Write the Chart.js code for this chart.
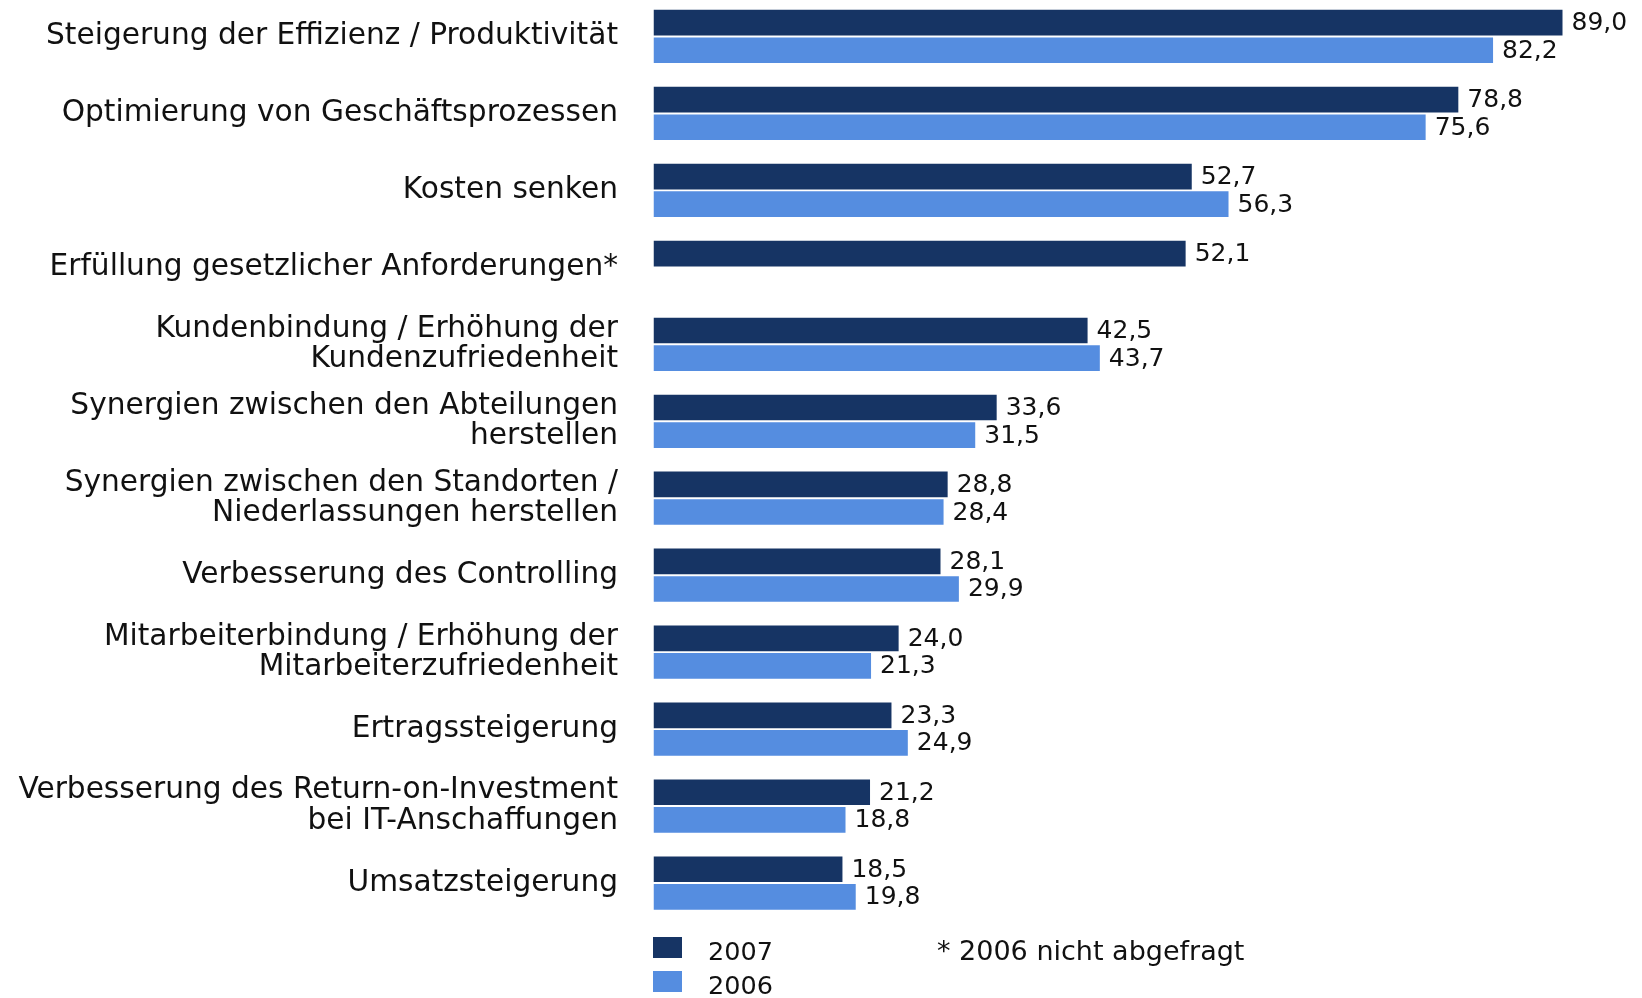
<!DOCTYPE html>
<html>
<head>
<meta charset="utf-8">
<script src="https://cdn.jsdelivr.net/npm/chart.js@4/dist/chart.umd.min.js"></script>
<style>
  html, body { margin: 0; padding: 0; background: #fff; overflow: hidden; }
  #wrap { position: absolute; left: 0; top: -2px; width: 1642px; height: 1000px; }
</style>
</head>
<body>
<div id="wrap"><canvas id="chart" width="1642" height="1000"></canvas></div>
<script>
const categories = [
    'Steigerung der Effizienz / Produktivität',
    'Optimierung von Geschäftsprozessen',
    'Kosten senken',
    'Erfüllung gesetzlicher Anforderungen*',
    ['Kundenbindung / Erhöhung der', 'Kundenzufriedenheit'],
    ['Synergien zwischen den Abteilungen', 'herstellen'],
    ['Synergien zwischen den Standorten /', 'Niederlassungen herstellen'],
    'Verbesserung des Controlling',
    ['Mitarbeiterbindung / Erhöhung der', 'Mitarbeiterzufriedenheit'],
    'Ertragssteigerung',
    ['Verbesserung des Return-on-Investment', 'bei IT-Anschaffungen'],
    'Umsatzsteigerung'
];
const values2007 = [89.0, 78.8, 52.7, 52.1, 42.5, 33.6, 28.8, 28.1, 24.0, 23.3, 21.2, 18.5];
const values2006 = [82.2, 75.6, 56.3, null, 43.7, 31.5, 28.4, 29.9, 21.3, 24.9, 18.8, 19.8];
const seriesNames = ['2007', '2006'];
const footnote = '* 2006 nicht abgefragt';

const FONT = '"DejaVu Sans", Verdana, sans-serif';

// value labels to the right of every bar
const valueLabels = {
    id: 'valueLabels',
    afterDatasetsDraw(chart) {
        const ctx = chart.ctx;
        ctx.save();
        ctx.font = '25px ' + FONT;
        ctx.fillStyle = '#111';
        ctx.textAlign = 'left';
        ctx.textBaseline = 'middle';
        chart.data.datasets.forEach((ds, i) => {
            chart.getDatasetMeta(i).data.forEach((bar, j) => {
                const v = ds.data[j];
                if (v === null || v === undefined) return;
                ctx.fillText(v.toFixed(1).replace('.', ','), bar.x + 9, bar.y + 1);
            });
        });
        ctx.restore();
    }
};

// stacked legend + footnote under the bars
const bottomLegend = {
    id: 'bottomLegend',
    afterDraw(chart) {
        const ctx = chart.ctx;
        ctx.save();
        ctx.textBaseline = 'middle';
        ctx.textAlign = 'left';
        ctx.font = '25.5px ' + FONT;
        const rows = [939, 973];
        chart.data.datasets.forEach((ds, i) => {
            const y = rows[i];
            ctx.fillStyle = ds.backgroundColor;
            ctx.fillRect(653, y, 29, 21);
            ctx.fillStyle = '#111';
            ctx.fillText(ds.label, 708, y + 16);
        });
        ctx.font = '27px ' + FONT;
        ctx.fillText(footnote, 937, 955);
        ctx.restore();
    }
};

const ctx = document.getElementById('chart').getContext('2d');
const chart = new Chart(ctx, {
    type: 'bar',
    data: {
        labels: categories,
        datasets: [{
            label: seriesNames[0],
            data: values2007,
            backgroundColor: '#163464',
            categoryPercentage: 0.7175,
            barPercentage: 0.93
        }, {
            label: seriesNames[1],
            data: values2006,
            backgroundColor: '#558de0',
            categoryPercentage: 0.7175,
            barPercentage: 0.93
        }]
    },
    options: {
        indexAxis: 'y',
        responsive: false,
        animation: false,
        layout: {
            padding: { left: 0, right: 8, top: 0, bottom: 76.5 }
        },
        plugins: {
            legend: { display: false },
            tooltip: { enabled: false }
        },
        scales: {
            x: {
                display: false,
                min: 0,
                max: 96
            },
            y: {
                afterFit(scale) {
                    scale.width = 653.5;
                    scale.paddingTop = 0;
                    scale.paddingBottom = 0;
                },
                grid: { display: false, drawTicks: false },
                border: { display: false },
                ticks: {
                    autoSkip: false,
                    color: '#111',
                    padding: 35.5,
                    font: { family: FONT, size: 29.65, lineHeight: 1.03 }
                }
            }
        }
    },
    plugins: [valueLabels, bottomLegend]
});
</script>
</body>
</html>
